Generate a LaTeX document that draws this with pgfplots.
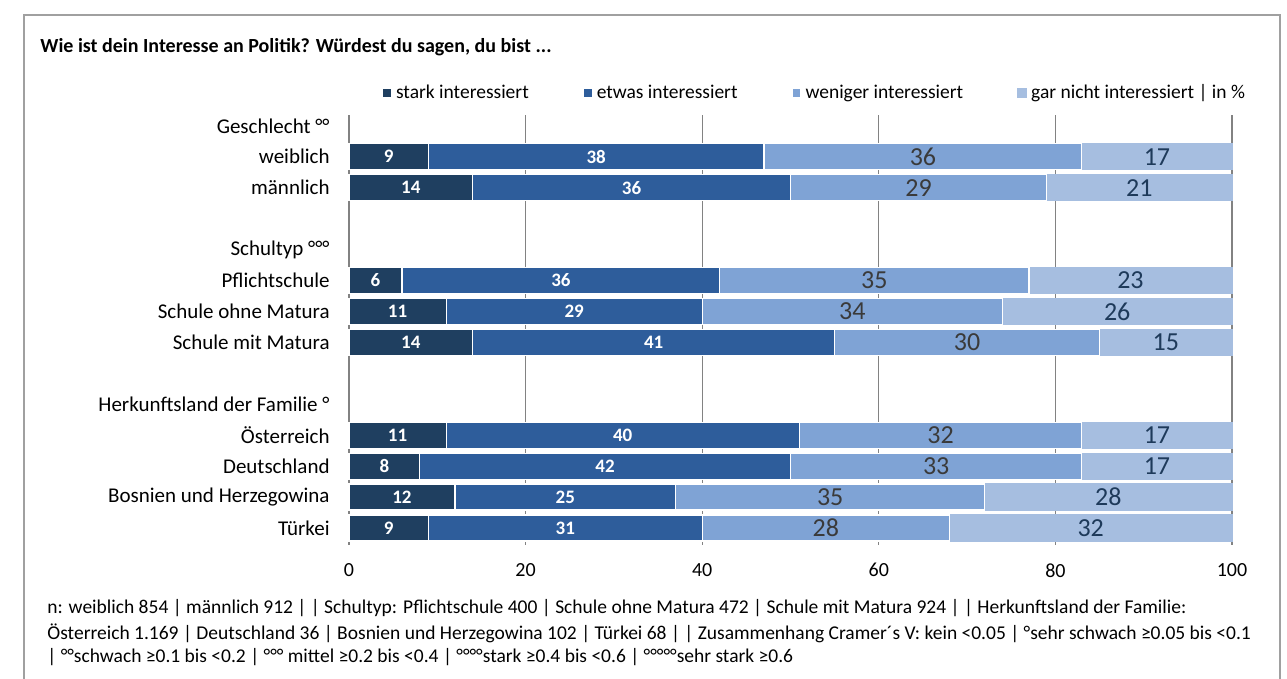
\documentclass[border=0pt]{standalone}
\usepackage{pgfplots}
\pgfplotsset{compat=1.18}
\usepackage{pgfplotstable}
\usepackage{fontspec}
\setmainfont{Carlito}
\definecolor{cA}{RGB}{31,63,96}
\definecolor{cB}{RGB}{46,93,155}
\definecolor{cC}{RGB}{127,163,213}
\definecolor{cD}{RGB}{166,190,224}
\definecolor{tC}{RGB}{58,58,58}
\definecolor{tD}{RGB}{30,58,90}
\definecolor{frm}{RGB}{160,160,160}
\definecolor{grd}{RGB}{130,130,130}

% y: row position (top = 13)
\pgfplotstableread{
y  a  b  c  d
12 9  38 36 17
11 14 36 29 21
8  6  36 35 23
7  11 29 34 26
6  14 41 30 15
3  11 40 32 17
2  8  42 33 17
1  12 25 35 28
0  9  31 28 32
}\data

\pgfplotsset{
  frameaxis/.style={
    at={(174.5pt,-57.5pt)}, anchor=north west,
    scale only axis, width=441.5pt, height=215pt,
    xmin=0, xmax=100, ymin=-0.55, ymax=13.35, clip=false},
  lab/.style={only marks, mark=*, mark size=0pt, mark options={draw=none,fill=none},
    point meta=explicit symbolic, nodes near coords,
    every node near coord/.append style={anchor=center, inner sep=0pt, #1}},
}

\begin{document}
\begin{tikzpicture}[x=0.5pt,y=-0.5pt]
\path[use as bounding box] (0,0) rectangle (1287,679);
\draw[frm, line width=0.8pt] (24,679) -- (24,15) -- (1280,15) -- (1280,679);
\node[anchor=west, inner sep=0pt, font=\bfseries\fontsize{10}{12}\selectfont] at (40,47) {Wie ist dein Interesse an Politik? Würdest du sagen, du bist ...};

\begin{axis}[
  frameaxis,
  xbar stacked, bar width=13pt,
  axis line style={draw=none},
  major tick length=0pt,
  xtick={0,20,40,60,80,100},
  xmajorgrids, major grid style={grd, line width=0.6pt},
  ytick={13,12,11,9,8,7,6,4,3,2,1,0},
  yticklabels={Geschlecht °°, weiblich, männlich, Schultyp °°°, Pflichtschule, Schule ohne Matura, Schule mit Matura, Herkunftsland der Familie °, Österreich, Deutschland, Bosnien und Herzegowina, Türkei},
  yticklabel style={anchor=east, inner sep=0pt, xshift=-9.5pt, font=\fontsize{10.5}{12}\selectfont},
  xticklabel style={anchor=north, inner sep=0pt, yshift=-9pt, font=\fontsize{10}{12}\selectfont},
  /pgf/number format/assume math mode=true,
  legend columns=4,
  legend style={draw=none, fill=none, at={(axis description cs:0.037,1.051)}, anchor=west,
    font=\fontsize{9.75}{11}\selectfont, inner sep=0pt,
    /tikz/every even column/.append style={column sep=25pt},
    nodes={inner sep=2pt}},
  legend image code/.code={\fill[#1] (0pt,-2.2pt) rectangle (4.4pt,2.2pt);},
]
\addplot[fill=cA, draw=white, line width=0.6pt] table[x=a,y=y]{\data};
\addlegendentry{stark interessiert}
\addplot[fill=cB, draw=white, line width=0.6pt] table[x=b,y=y]{\data};
\addlegendentry{etwas interessiert}
\addplot[fill=cC, draw=white, line width=0.6pt] table[x=c,y=y]{\data};
\addlegendentry{weniger interessiert}
\addplot[fill=cD, draw=cD, line width=0.6pt] table[x=d,y=y]{\data};
\addlegendentry{gar nicht interessiert | in \%}
\end{axis}

\begin{axis}[frameaxis, hide axis]
\addplot[lab={text=white, font=\bfseries\fontsize{9.5}{10}\selectfont}]
  table[x expr=\thisrow{a}/2, y=y, meta=a]{\data};
\addplot[lab={text=white, font=\bfseries\fontsize{9.5}{10}\selectfont}]
  table[x expr=\thisrow{a}+\thisrow{b}/2, y=y, meta=b]{\data};
\addplot[lab={text=tC, font=\fontsize{13}{14}\selectfont}]
  table[x expr=\thisrow{a}+\thisrow{b}+\thisrow{c}/2, y=y, meta=c]{\data};
\addplot[lab={text=tD, font=\fontsize{13}{14}\selectfont}]
  table[x expr=\thisrow{a}+\thisrow{b}+\thisrow{c}+\thisrow{d}/2, y=y, meta=d]{\data};
\end{axis}

\begin{scope}[every node/.style={anchor=west, inner sep=0pt, font=\fontsize{9.75}{11}\selectfont}]
\node at (47,608) {n: weiblich 854 | männlich 912 | | Schultyp: Pflichtschule 400 | Schule ohne Matura 472 | Schule mit Matura 924 | | Herkunftsland der Familie:};
\node at (47,633) {Österreich 1.169 | Deutschland 36 | Bosnien und Herzegowina 102 | Türkei 68 | | Zusammenhang Cramer´s V: kein <0.05 | °sehr schwach ≥0.05 bis <0.1};
\node at (47,657) {| °°schwach ≥0.1 bis <0.2 | °°° mittel ≥0.2 bis <0.4 | °°°°stark ≥0.4 bis <0.6 | °°°°°sehr stark ≥0.6};
\end{scope}
\end{tikzpicture}
\end{document}
